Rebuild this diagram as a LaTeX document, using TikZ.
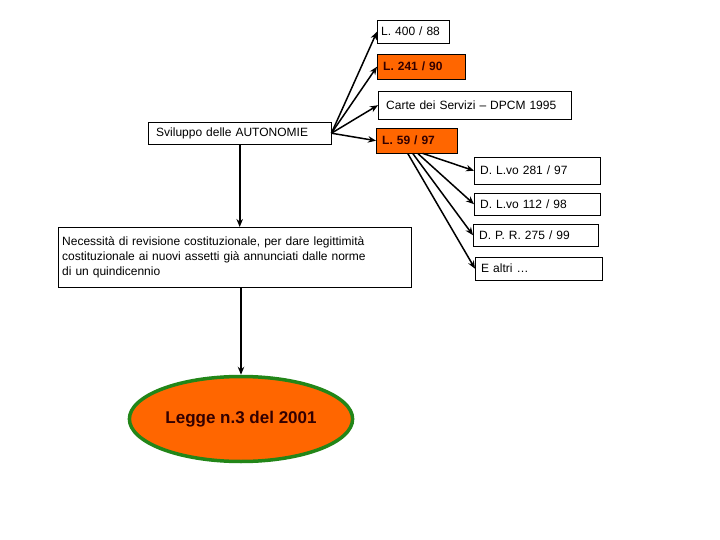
\documentclass[tikz,border=0pt]{standalone}
\usepackage{fontspec}
\setmainfont{Liberation Sans}
\usetikzlibrary{arrows.meta, positioning, shapes.geometric}
\usepackage{xcolor}
\definecolor{laworange}{RGB}{255,102,0}
\definecolor{leggegreen}{RGB}{34,134,24}
\definecolor{leggetext}{RGB}{51,0,0}

\begin{document}
\begin{tikzpicture}[x=1pt, y=-1pt, every node/.style={font=\fontsize{12}{15}\selectfont},
  lawbox/.style={draw, fill=white, anchor=north west, inner xsep=6pt, inner ysep=0pt, align=left},
  lawhot/.style={lawbox, fill=laworange, font=\fontsize{12}{15}\selectfont\bfseries, text=leggetext},
  link/.style={-{Stealth[length=8pt, width=6.5pt]}, line width=1.5pt}]
\useasboundingbox (0,0) rectangle (720,540);
\node[lawbox, text width=167pt, minimum height=22pt, inner xsep=8pt] (svil) at (148,122) {Sviluppo delle AUTONOMIE};
\node[lawbox, text width=64pt, minimum height=23pt, inner xsep=4pt] (l400) at (377,20) {L. 400 / 88};
\node[lawhot, text width=76pt, minimum height=25pt] (l241) at (377,54) {L. 241 / 90};
\node[lawbox, text width=177pt, minimum height=28pt, inner xsep=8pt] (carte) at (378,91) {Carte dei Servizi -- DPCM 1995};
\node[lawhot, text width=69pt, minimum height=25pt] (l59) at (376,128) {L. 59 / 97};
\node[lawbox, text width=114pt, minimum height=27pt] (d281) at (474,157) {D. L.vo 281 / 97};
\node[lawbox, text width=114pt, minimum height=22pt] (d112) at (474,193) {D. L.vo 112 / 98};
\node[lawbox, text width=113pt, minimum height=22pt] (dpr) at (473,224) {D. P. R. 275 / 99};
\node[lawbox, text width=115pt, minimum height=23pt] (altri) at (475,257) {E altri …};
\node[lawbox, text width=345pt, minimum height=60pt, inner xsep=4pt] (nec) at (58,227)
  {Necessità di revisione costituzionale, per dare legittimità\\
   costituzionale ai nuovi assetti già annunciati dalle norme\\
   di un quindicennio};
\node[ellipse, draw=leggegreen, line width=3.5pt, fill=laworange, minimum width=214pt, minimum height=85pt,
  font=\fontsize{17}{20}\selectfont\bfseries, text=leggetext] (legge) at (241,419) {Legge n.3 del 2001};
% fan from the autonomie box
\foreach \t in {l400,l241,carte,l59}
  \draw[link] (svil.east) -- (\t.west);
% decrees from L. 59 / 97
\foreach \t/\s in {d281/6,d112/1,dpr/-4,altri/-9}
  \draw[link] ([xshift=\s pt]l59.south) -- (\t.west);
\draw[link, line width=2pt] (svil.south) -- (svil.south |- nec.north);
\draw[link, line width=2pt] (legge.north |- nec.south) -- (legge.north);
\end{tikzpicture}
\end{document}
